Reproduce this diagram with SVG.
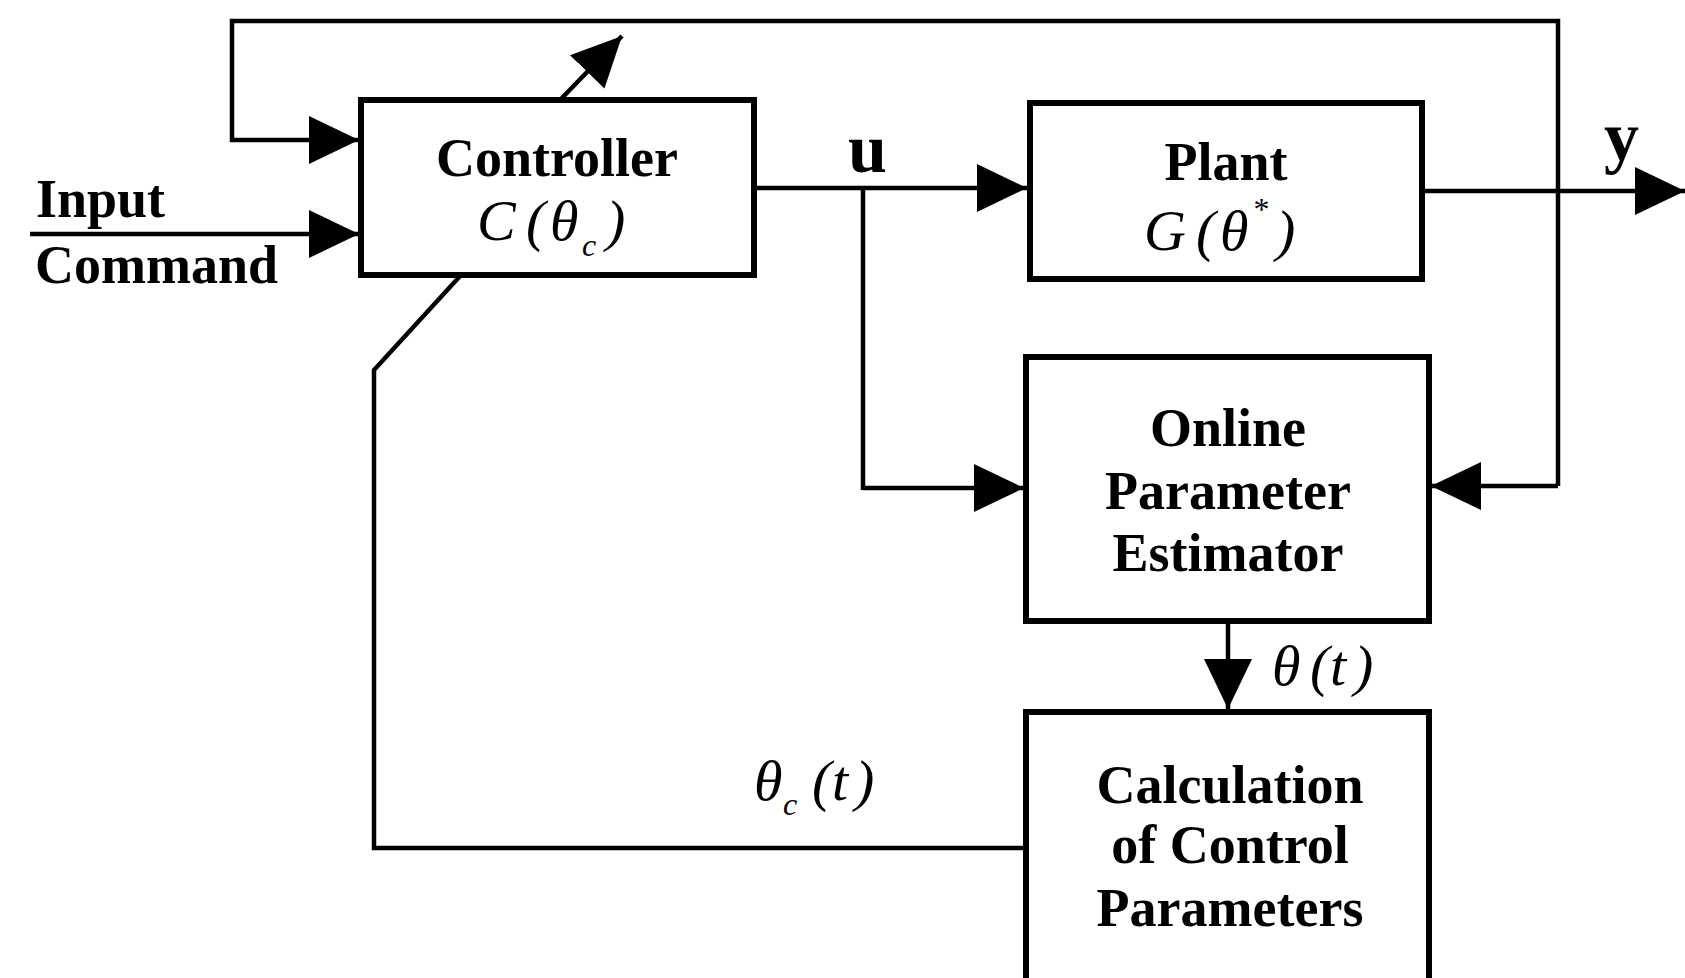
<svg xmlns="http://www.w3.org/2000/svg" width="1685" height="978" viewBox="0 0 1685 978">
<style>
.box{fill:#fff;stroke:#000;stroke-width:6}
.ln{fill:none;stroke:#000;stroke-width:4.5}
.lbl{font-family:"Liberation Serif","Times New Roman",serif;font-weight:bold;font-size:54px;fill:#000}
.m{font-family:"Liberation Serif","Times New Roman",serif;font-style:italic;font-size:58px;fill:#000}
.ms{font-family:"Liberation Serif","Times New Roman",serif;font-style:italic;font-size:32px;fill:#000}
</style>
<defs>
<marker id="ah" markerUnits="userSpaceOnUse" markerWidth="52" markerHeight="48" refX="50" refY="24" orient="auto" viewBox="0 0 52 48">
<path d="M0,0 L50,24 L0,48 z" fill="#000"/>
</marker>
</defs>
<rect width="1685" height="978" fill="#fff"/>
<g id="connectors">
<path class="ln" d="M1558,486 V21 H232 V140 H359" marker-end="url(#ah)"/>
<path class="ln" d="M1558,486 H1431" marker-end="url(#ah)"/>
<path class="ln" d="M30,234 H359" marker-end="url(#ah)"/>
<path class="ln" d="M754,188 H1027" marker-end="url(#ah)"/>
<path class="ln" d="M1422,191 H1685" marker-end="url(#ah)"/>
<path class="ln" d="M863,188 V490 M863,488 H1024" marker-end="url(#ah)"/>
<path class="ln" d="M1228,621 V709" marker-end="url(#ah)"/>
<path class="ln" d="M1026,848 H374 V370 L461,275"/>
<path class="ln" d="M560,100 L622,36" marker-end="url(#ah)"/>
<text class="lbl" x="848" y="172" style="font-size:70px">u</text>
<text class="lbl" x="1604" y="160" style="font-size:70px">y</text>
<text class="m" x="1272" y="685">θ</text>
<text class="m" x="1310" y="685">(</text>
<text class="m" x="1330" y="685">t</text>
<text class="m" x="1354" y="685">)</text>
<text class="m" x="754" y="800">θ</text>
<text class="ms" x="783" y="815">c</text>
<text class="m" x="812" y="800">(</text>
<text class="m" x="832" y="800">t</text>
<text class="m" x="855" y="800">)</text>
</g>
<g id="input-command">
<text class="lbl" x="36" y="217">Input</text>
<text class="lbl" x="35" y="283">Command</text>
</g>
<g id="controller">
<rect class="box" x="361" y="100" width="393" height="175"/>
<text class="lbl" x="557" y="176" text-anchor="middle">Controller</text>
<text class="m" x="477" y="240">C</text>
<text class="m" x="526" y="240">(</text>
<text class="m" x="550" y="240">θ</text>
<text class="ms" x="582" y="256">c</text>
<text class="m" x="606" y="240">)</text>
</g>
<g id="plant">
<rect class="box" x="1030" y="103" width="392" height="176"/>
<text class="lbl" x="1226" y="180" text-anchor="middle">Plant</text>
<text class="m" x="1144" y="250">G</text>
<text class="m" x="1196" y="250">(</text>
<text class="m" x="1220" y="250">θ</text>
<text class="ms" x="1252" y="220">*</text>
<text class="m" x="1276" y="250">)</text>
</g>
<g id="estimator">
<rect class="box" x="1026" y="357" width="403" height="264"/>
<text class="lbl" x="1228" y="446" text-anchor="middle">Online</text>
<text class="lbl" x="1228" y="509" text-anchor="middle">Parameter</text>
<text class="lbl" x="1228" y="571" text-anchor="middle">Estimator</text>
</g>
<g id="calculation">
<rect class="box" x="1026" y="712" width="403" height="290"/>
<text class="lbl" x="1230" y="803" text-anchor="middle">Calculation</text>
<text class="lbl" x="1230" y="863" text-anchor="middle">of Control</text>
<text class="lbl" x="1230" y="926" text-anchor="middle">Parameters</text>
</g>
</svg>
